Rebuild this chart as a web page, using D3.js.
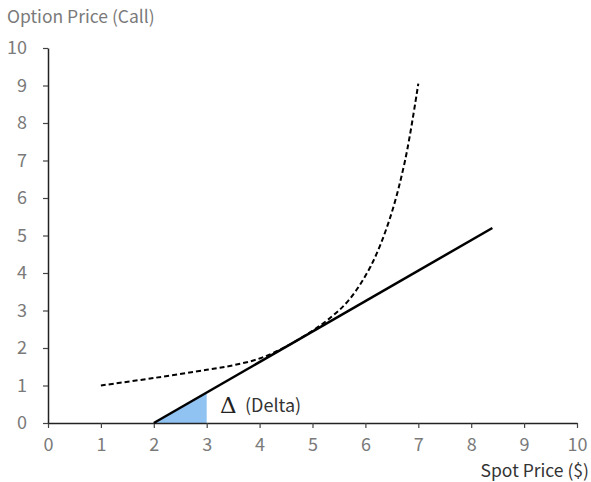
<!DOCTYPE html>
<html>
<head>
<script src="https://d3js.org/d3.v7.min.js"></script>
<style>
  body { margin: 0; background: #fff; }
  text { font-family: "Noto Sans CJK KR", "Noto Sans", sans-serif; }
</style>
</head>
<body>
<div id="chartContainer"></div>
<script>
// option price curve (dashed)
var curveX = [1, 2, 3, 3.5, 4, 4.5, 5, 5.4, 5.7, 6.1, 6.45, 6.75, 7];
var curveY = [1.0, 1.2, 1.42, 1.54, 1.72, 2.04, 2.46, 2.88, 3.3, 4.18, 5.4, 7.0, 9.05];
// tangent line (delta)
var tangentX = [2, 8.4];
var tangentY = [0, 5.2];
// shaded delta triangle
var deltaX = [2, 3, 3];
var deltaY = [0, 0, 0.8];
var xTicks = [0, 1, 2, 3, 4, 5, 6, 7, 8, 9, 10];
var yTicks = [0, 1, 2, 3, 4, 5, 6, 7, 8, 9, 10];

var width = 591, height = 482;
var svg = d3.select("#chartContainer").append("svg")
    .attr("width", width).attr("height", height);

var x = d3.scaleLinear().domain([0, 10]).range([48, 577]);
var y = d3.scaleLinear().domain([0, 10]).range([423, 48]);

// shaded area
svg.append("path")
   .datum(deltaX.map(function (d, i) { return [d, deltaY[i]]; }))
   .attr("d", d3.line().x(function (d) { return x(d[0]); }).y(function (d) { return y(d[1]); }))
   .attr("fill", "#90c3f2");

// axes
var xAxis = svg.append("g").attr("transform", "translate(0,423)")
   .call(d3.axisBottom(x).tickValues(xTicks).tickSize(5).tickSizeOuter(0).tickPadding(6));
var yAxis = svg.append("g").attr("transform", "translate(48,0)")
   .call(d3.axisLeft(y).tickValues(yTicks).tickSize(5).tickSizeOuter(0).tickPadding(16));
[xAxis, yAxis].forEach(function (g) {
  g.select(".domain").attr("stroke", "#222").attr("stroke-width", 1.5);
  g.selectAll(".tick line").attr("stroke", "#444").attr("stroke-width", 1.2);
  g.selectAll(".tick text").attr("fill", "#7a7a7a").style("font-size", "18px")
   .style("font-family", "\"Noto Sans CJK KR\", \"Noto Sans\", sans-serif");
});
xAxis.selectAll(".tick text").attr("dy", "0.95em");

// dashed option curve
svg.append("path")
   .datum(curveX.map(function (d, i) { return [d, curveY[i]]; }))
   .attr("d", d3.line().curve(d3.curveCatmullRom)
      .x(function (d) { return x(d[0]); }).y(function (d) { return y(d[1]); }))
   .attr("fill", "none").attr("stroke", "#000").attr("stroke-width", 2)
   .attr("stroke-dasharray", "5,3");

// tangent line
svg.append("path")
   .datum(tangentX.map(function (d, i) { return [d, tangentY[i]]; }))
   .attr("d", d3.line().x(function (d) { return x(d[0]); }).y(function (d) { return y(d[1]); }))
   .attr("fill", "none").attr("stroke", "#000").attr("stroke-width", 2.5);

// labels
svg.append("text").attr("x", 7).attr("y", 23)
   .attr("fill", "#7a7a7a").style("font-size", "17.5px").text("Option Price (Call)");
svg.append("text").attr("x", 589).attr("y", 477).attr("text-anchor", "end")
   .attr("fill", "#333").style("font-size", "17.5px").text("Spot Price ($)");
svg.append("text").attr("x", 220).attr("y", 413)
   .style("font-family", "\"DejaVu Serif\", serif").style("font-size", "23px")
   .attr("fill", "#222").text("\u0394");
svg.append("text").attr("x", 245).attr("y", 412)
   .style("font-size", "18px").attr("fill", "#333").text("(Delta)");
</script>
</body>
</html>
